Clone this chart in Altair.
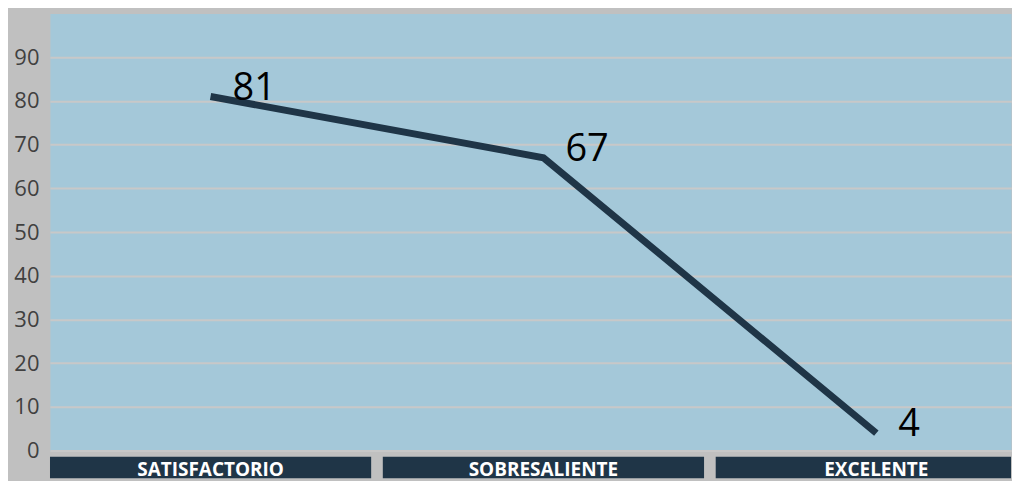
import altair as alt
import pandas as pd

categories = ["SATISFACTORIO", "SOBRESALIENTE", "EXCELENTE"]
values = [81, 67, 4]
y_ticks = [0, 10, 20, 30, 40, 50, 60, 70, 80, 90]

df = pd.DataFrame({"cat": categories, "val": values})

BLUE = "#a4c8d9"
NAVY = "#1f3547"
GRAY = "#c0c0c0"

PLOT_W = 963
xscale = alt.Scale(type="band", domain=categories, paddingInner=0.035,
                   paddingOuter=0, range=[0, 989])
x = alt.X("cat:N", scale=xscale, axis=None, sort=categories)
y = alt.Y(
    "val:Q",
    scale=alt.Scale(domain=[0, 100], nice=False),
    axis=alt.Axis(
        values=y_ticks, title=None, grid=True, gridColor="#c8c8c8", gridWidth=2,
        domain=False, ticks=False, labelFontSize=22, labelColor="#404040",
        labelFont="Open Sans", labelPadding=11, minExtent=41, maxExtent=41,
    ),
)

line = alt.Chart(df).mark_line(color=NAVY, strokeWidth=7, strokeCap="butt").encode(x=x, y=y)
text = alt.Chart(df).mark_text(
    align="left", baseline="middle", dx=22, dy=-8, fontSize=38,
    font="Open Sans", color="#000000",
).encode(x=x, y=y, text="val:Q")

top = (line + text).properties(
    width=PLOT_W, height=438, view=alt.ViewBackground(fill=BLUE, stroke="transparent")
)

xb = alt.X("cat:N", scale=xscale, axis=None, sort=categories)
boxes = alt.Chart(df).mark_rect(color=NAVY, clip=True).encode(
    x=xb, y=alt.value(0), y2=alt.value(22)
)
blabels = alt.Chart(df).mark_text(
    color="white", fontSize=19, fontWeight="bold", font="Open Sans", baseline="middle"
).encode(x=xb, y=alt.value(13), text="cat:N")

bottom = (boxes + blabels).properties(
    width=PLOT_W, height=22, view=alt.ViewBackground(stroke="transparent")
)

chart = alt.vconcat(top, bottom, spacing=6, bounds="flush").properties(
    background=GRAY,
    padding={"left": 0, "top": 4, "right": 0, "bottom": 0},
)

chart.save("out.html", embed_options={"renderer": "svg", "actions": False})
